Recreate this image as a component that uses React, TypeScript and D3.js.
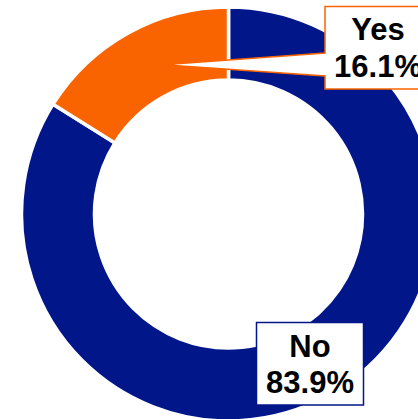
import React from "react";
import * as d3 from "d3";

const categories = ["No", "Yes"];
const values = [83.9, 16.1];
const labels = ["83.9%", "16.1%"];
const colors = ["#001689", "#FA6400"];

export default function App() {
  const W = 418, H = 419;
  const cx = 228.5, cy = 214;
  const rOuter = 207, rInner = 134;

  const pie = d3.pie<number>().sort(null).startAngle(0).endAngle(2 * Math.PI);
  const arcs = pie(values);
  const arcGen = d3.arc<d3.PieArcDatum<number>>().innerRadius(rInner).outerRadius(rOuter);

  const yes = arcs[1];
  const tipAngle = yes.endAngle - 0.41 * (yes.endAngle - yes.startAngle);
  const tipR = 163;
  const tipX = cx + tipR * Math.sin(tipAngle);
  const tipY = cy - tipR * Math.cos(tipAngle);

  // Yes callout box
  const yb = { x0: 325, y0: 6.5, x1: 432, y1: 89, w0: 53, w1: 76 };
  const yesPath = `M${yb.x0},${yb.y0} H${yb.x1} V${yb.y1} H${yb.x0} V${yb.w1} L${tipX},${tipY} L${yb.x0},${yb.w0} Z`;
  const nb = { x0: 256.5, y0: 322.5, x1: 363.5, y1: 405 };

  const font = "'Liberation Sans', Arial, sans-serif";

  return (
    <svg width={W} height={H} style={{ position: "absolute", left: 0, top: 0, background: "#fff" }}>
      <g transform={`translate(${cx},${cy})`}>
        {arcs.map((a, i) => (
          <path key={categories[i]} d={arcGen(a) || ""} fill={colors[i]} stroke="#fff" strokeWidth={3.5} strokeLinejoin="miter" />
        ))}
      </g>
      <rect x={nb.x0} y={nb.y0} width={nb.x1 - nb.x0} height={nb.y1 - nb.y0} fill="#fff" stroke={colors[0]} strokeWidth={1.5} />
      <text x={(nb.x0 + nb.x1) / 2} y={357} textAnchor="middle" fontFamily={font} fontWeight="bold" fontSize={31} fill="#000">{categories[0]}</text>
      <text x={(nb.x0 + nb.x1) / 2} y={393} textAnchor="middle" fontFamily={font} fontWeight="bold" fontSize={31} fill="#000">{labels[0]}</text>
      <path d={yesPath} fill="#fff" stroke={colors[1]} strokeWidth={1.5} strokeLinejoin="miter" />
      <text x={378} y={40} textAnchor="middle" fontFamily={font} fontWeight="bold" fontSize={31} fill="#000">{categories[1]}</text>
      <text x={378} y={76.5} textAnchor="middle" fontFamily={font} fontWeight="bold" fontSize={31} fill="#000">{labels[1]}</text>
    </svg>
  );
}
